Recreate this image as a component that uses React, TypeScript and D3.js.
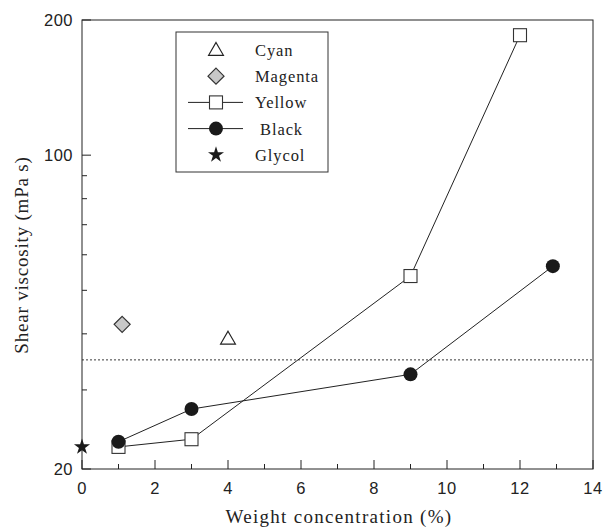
import React from "react";
import * as d3 from "d3";

const cyanX = [4];
const cyanY = [39];
const magentaX = [1.1];
const magentaY = [42];
const yellowX = [1, 3, 9, 12];
const yellowY = [22.4, 23.3, 53.8, 185];
const blackX = [1, 3, 9, 12.9];
const blackY = [23, 27.2, 32.5, 56.6];
const glycolX = [0];
const glycolY = [22.4];
const refLine = 35;

const xTicks = [0, 2, 4, 6, 8, 10, 12, 14];
const xMinor = [1, 3, 5, 7, 9, 11, 13];
const yTicks = [20, 100, 200];
const yMinor = [30, 40, 50, 60, 70, 80, 90];

const legendItems = [
  { label: "Cyan", sym: "tri", line: false },
  { label: "Magenta", sym: "dia", line: false },
  { label: "Yellow", sym: "sq", line: true },
  { label: " Black", sym: "circ", line: true },
  { label: "Glycol", sym: "star", line: false },
];

const W = 603;
const H = 529;
const m = { left: 82, right: 593, top: 20, bottom: 469 };

const serif = "Liberation Serif";
const sans = "Liberation Sans";

function Marker({ sym, x, y }: { sym: string; x: number; y: number }) {
  if (sym === "tri") {
    const p = d3.symbol(d3.symbolTriangle, 95)()!;
    return <path d={p} transform={`translate(${x},${y + 1})`} fill="#fff" stroke="#222" strokeWidth={1.2} />;
  }
  if (sym === "dia") {
    const s = 8;
    return (
      <path d={`M0,${-s}L${s},0L0,${s}L${-s},0Z`} transform={`translate(${x},${y})`} fill="#c8c8c8" stroke="#333" strokeWidth={1.2} />
    );
  }
  if (sym === "sq") {
    return <rect x={x - 6.5} y={y - 6.5} width={13} height={13} fill="#fff" stroke="#333" strokeWidth={1.1} />;
  }
  if (sym === "circ") {
    return <circle cx={x} cy={y} r={7} fill="#1a1a1a" />;
  }
  const p = d3.symbol(d3.symbolStar, 80)()!;
  return <path d={p} transform={`translate(${x},${y})`} fill="#1a1a1a" />;
}

export default function App() {
  const x = d3.scaleLinear().domain([0, 14]).range([m.left, m.right]);
  const y = d3.scaleLog().domain([20, 200]).range([m.bottom, m.top]);
  const line = d3
    .line<[number, number]>()
    .x((d) => x(d[0]))
    .y((d) => y(d[1]));
  const yellow = yellowX.map((v, i) => [v, yellowY[i]] as [number, number]);
  const black = blackX.map((v, i) => [v, blackY[i]] as [number, number]);

  const lg = { x: 176, y: 32, w: 152, h: 140 };
  const rowY = (i: number) => lg.y + 18 + i * 26.2;

  return (
    <svg width={W} height={H} style={{ display: "block", position: "absolute", left: 0, top: 0 }}>
      <rect width={W} height={H} fill="#fff" />
      {/* frame */}
      <rect x={m.left} y={m.top} width={m.right - m.left} height={m.bottom - m.top} fill="none" stroke="#222" strokeWidth={1} />
      {/* ticks */}
      {xTicks.map((t) => (
        <g key={"x" + t}>
          <line x1={x(t)} x2={x(t)} y1={m.bottom} y2={m.bottom - 9} stroke="#222" />
          <text x={x(t)} y={m.bottom + 25} textAnchor="middle" style={{ fontFamily: sans, letterSpacing: 0.5 }} fontSize={16.5} fill="#222">
            {t}
          </text>
        </g>
      ))}
      {xMinor.map((t) => (
        <line key={"xm" + t} x1={x(t)} x2={x(t)} y1={m.bottom} y2={m.bottom - 5} stroke="#222" />
      ))}
      {yTicks.map((t) => (
        <g key={"y" + t}>
          <line x1={m.left} x2={m.left + 9} y1={y(t)} y2={y(t)} stroke="#222" />
          <text x={m.left - 9} y={y(t) + 6} textAnchor="end" style={{ fontFamily: sans, letterSpacing: 0.5 }} fontSize={16.5} fill="#222">
            {t}
          </text>
        </g>
      ))}
      {yMinor.map((t) => (
        <line key={"ym" + t} x1={m.left} x2={m.left + 5} y1={y(t)} y2={y(t)} stroke="#222" />
      ))}
      {/* reference line */}
      <line x1={m.left} x2={m.right} y1={y(refLine)} y2={y(refLine)} stroke="#222" strokeWidth={0.9} strokeDasharray="2,2" />
      {/* series lines */}
      <path d={line(yellow)!} fill="none" stroke="#222" strokeWidth={1} />
      <path d={line(black)!} fill="none" stroke="#222" strokeWidth={1} />
      {yellow.map((d, i) => (
        <Marker key={"ys" + i} sym="sq" x={x(d[0])} y={y(d[1])} />
      ))}
      {black.map((d, i) => (
        <Marker key={"bs" + i} sym="circ" x={x(d[0])} y={y(d[1])} />
      ))}
      {cyanX.map((v, i) => (
        <Marker key={"c" + i} sym="tri" x={x(v)} y={y(cyanY[i])} />
      ))}
      {magentaX.map((v, i) => (
        <Marker key={"m" + i} sym="dia" x={x(v)} y={y(magentaY[i])} />
      ))}
      {glycolX.map((v, i) => (
        <Marker key={"g" + i} sym="star" x={x(v)} y={y(glycolY[i])} />
      ))}
      {/* legend */}
      <rect x={lg.x} y={lg.y} width={lg.w} height={lg.h} fill="#fff" stroke="#333" strokeWidth={1} />
      {legendItems.map((it, i) => (
        <g key={it.label}>
          {it.line && <line x1={188} x2={243} y1={rowY(i)} y2={rowY(i)} stroke="#222" />}
          <Marker sym={it.sym} x={216} y={rowY(i)} />
          <text x={255} y={rowY(i) + 6} style={{ fontFamily: serif, whiteSpace: "pre", letterSpacing: 0.9 }} fontSize={16.5} fill="#222">
            {it.label}
          </text>
        </g>
      ))}
      {/* axis titles */}
      <text x={339} y={523} textAnchor="middle" style={{ fontFamily: serif, letterSpacing: 1.3 }} fontSize={19} fill="#222">
        Weight concentration (%)
      </text>
      <text
        transform={`translate(28,255) rotate(-90)`}
        textAnchor="middle"
        style={{ fontFamily: serif, letterSpacing: 0.8 }}
        fontSize={19}
        fill="#222"
      >
        Shear viscosity (mPa s)
      </text>
    </svg>
  );
}
